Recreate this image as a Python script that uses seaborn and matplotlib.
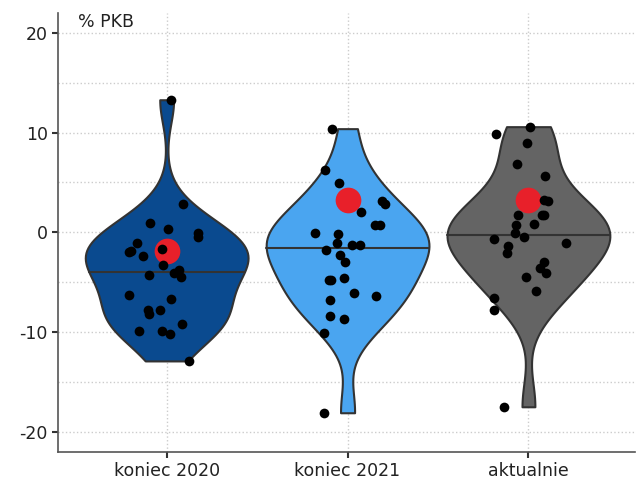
import numpy as np
import pandas as pd
import seaborn as sns
import matplotlib.pyplot as plt

categories = ['koniec 2020', 'koniec 2021', 'aktualnie']

koniec_2020 = [13.3, 2.8, 0.9, 0.3, -0.5, -0.1, -1.1, -2.4, -1.9, -1.7, -2.0, -3.3, -3.8,
               -4.3, -4.5, -4.1, -6.3, -6.7, -7.8, -7.8, -8.2, -9.2, -9.9, -9.9, -10.2, -12.9]
koniec_2021 = [10.4, 6.3, 4.9, 3.1, 2.8, 2.0, 0.7, 0.7, -0.2, -0.1, -1.3, -1.3, -1.1,
               -1.8, -2.3, -3.0, -4.8, -4.8, -4.6, -6.4, -6.1, -6.8, -8.4, -8.7, -10.1, -18.1]
aktualnie = [10.6, 9.9, 9.0, 6.9, 5.6, 3.1, 3.2, 1.7, 1.7, 1.7, 0.7, 0.8, -0.1,
             -0.5, -0.7, -1.4, -1.1, -2.1, -3.0, -3.6, -4.1, -4.5, -5.9, -6.6, -7.8, -17.5]

# wartosci zagregowane (czerwone punkty)
aggregate = [-1.9, 3.2, 3.2]

colors = ['#0a4a8f', '#4aa5f0', '#646464']
label_y = '% PKB'

df = pd.DataFrame({
    'okres': [categories[0]] * len(koniec_2020) + [categories[1]] * len(koniec_2021)
             + [categories[2]] * len(aktualnie),
    'wartosc': koniec_2020 + koniec_2021 + aktualnie,
})
agg = pd.DataFrame({'okres': categories, 'wartosc': aggregate})

sns.set_style('white')
plt.rcParams['font.family'] = ['DejaVu Sans']
plt.rcParams['axes.unicode_minus'] = False

fig = plt.figure(figsize=(6.39, 4.82), dpi=100)
ax = fig.add_axes([0.091, 0.063, 0.903, 0.91])

sns.violinplot(data=df, x='okres', y='wartosc', hue='okres', order=categories,
               hue_order=categories, palette=colors, legend=False, cut=0,
               bw_method='silverman', bw_adjust=0.8, density_norm='width', width=0.9,
               inner='quart', inner_kws=dict(linewidth=1.5, color='#333333'),
               linewidth=1.5, linecolor='#333333', saturation=1, ax=ax, zorder=2)

# zostaw tylko mediane, ciagla linia
inner_lines = list(ax.lines)
for i, ln in enumerate(inner_lines):
    if i % 3 == 1:
        ln.set_linestyle('-')
        ln.set_zorder(3)
    else:
        ln.remove()

sns.stripplot(data=agg, x='okres', y='wartosc', order=categories, jitter=False,
              color='#e8202a', size=18.5, linewidth=0, ax=ax, zorder=4)

np.random.seed(3)
sns.stripplot(data=df, x='okres', y='wartosc', order=categories, jitter=0.22,
              color='black', size=7, linewidth=0, ax=ax, zorder=5)

ax.set_ylim(-22, 22)
ax.set_xlim(-0.6, 2.59)
ax.set_yticks([-20, -10, 0, 10, 20])
ax.set_yticks([-15, -5, 5, 15], minor=True)
ax.grid(True, which='both', axis='y', linestyle=':', color='#cccccc', linewidth=1)
ax.grid(True, which='major', axis='x', linestyle=':', color='#cccccc', linewidth=1)
ax.set_axisbelow(True)

ax.set_xlabel('')
ax.set_ylabel('')
for side in ['top', 'right']:
    ax.spines[side].set_visible(False)
for side in ['left', 'bottom']:
    ax.spines[side].set_color('#555555')
    ax.spines[side].set_linewidth(1.2)

ax.tick_params(axis='both', which='major', length=4, width=1.5, color='#333333',
               labelsize=12.5, labelcolor='#222222', left=True, bottom=True)
ax.tick_params(axis='y', which='minor', length=0)

ax.text(0.035, 1.0, label_y, transform=ax.transAxes, ha='left', va='top',
        fontsize=12.5, color='#222222')

fig.savefig('out.png', dpi=100)
